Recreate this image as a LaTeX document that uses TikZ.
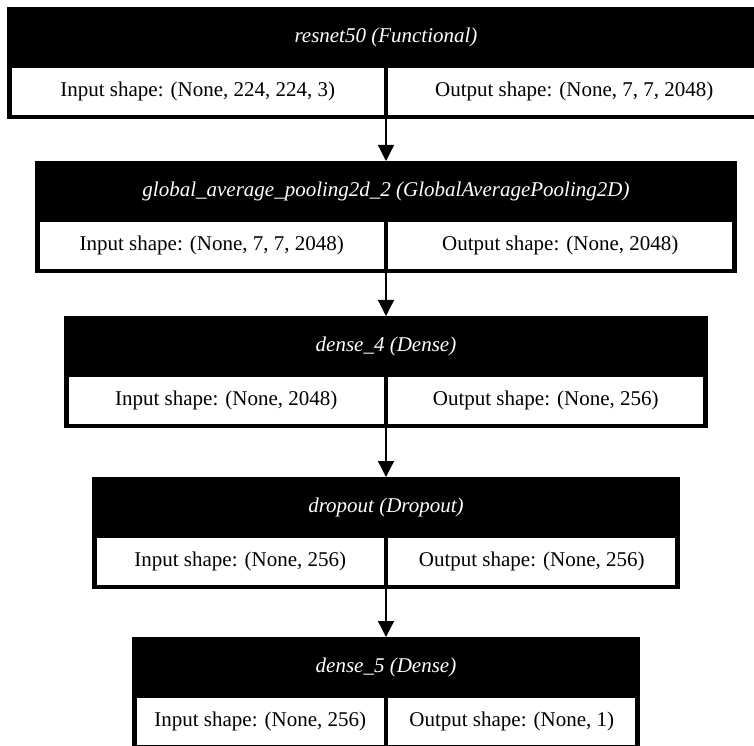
\documentclass[tikz,border=0pt]{standalone}
\usepackage{fontspec}
\setmainfont{Liberation Serif}
\usepackage{tikz}
\usetikzlibrary{positioning}
\usetikzlibrary{arrows.meta}

\begin{document}
\begin{tikzpicture}[
x=1pt, y=1pt,
layer/.style={
  rectangle,
  fill=black,
  minimum width=#1,
  minimum height=112pt,
  anchor=north,
  inner sep=0pt,
  outer sep=0pt
},
head/.style={
  text=white,
  inner sep=0pt,
  font=\fontsize{21}{25}\selectfont\itshape
},
cell/.style={
  rectangle,
  draw=black,
  fill=white,
  line width=4.5pt,
  minimum width=#1,
  minimum height=51pt,
  inner sep=0pt,
  outer sep=0pt,
  font=\fontsize{21}{25}\selectfont
},
arr/.style={-{Triangle[length=16pt,width=16pt]}, line width=1.3pt, black}
]
\useasboundingbox (0,0) rectangle (754,745);
\clip (0,0) rectangle (754,745);

% ---- resnet50 ----
\node[layer=758pt] (resnet) at (386,738) {};
\node[head] (resnethead) at ([yshift=-30.5pt]resnet.north) {resnet50 (Functional)};
\node[cell=376.5pt, anchor=north east] (resnetin) at ([yshift=-59pt]resnet.north) {Input shape: (None, 224, 224, 3)};
\node[cell=376.5pt, anchor=north west] (resnetout) at ([yshift=-59pt]resnet.north) {Output shape: (None, 7, 7, 2048)};

% ---- global average pooling ----
\node[layer=702pt] (gap) at (386,584) {};
\node[head] (gaphead) at ([yshift=-30.5pt]gap.north) {global\_average\_pooling2d\_2 (GlobalAveragePooling2D)};
\node[cell=348.5pt, anchor=north east] (gapin) at ([yshift=-59pt]gap.north) {Input shape: (None, 7, 7, 2048)};
\node[cell=348.5pt, anchor=north west] (gapout) at ([yshift=-59pt]gap.north) {Output shape: (None, 2048)};

% ---- dense_4 ----
\node[layer=644pt] (densefour) at (386,429) {};
\node[head] (densefourhead) at ([yshift=-30.5pt]densefour.north) {dense\_4 (Dense)};
\node[cell=319.5pt, anchor=north east] (densefourin) at ([yshift=-59pt]densefour.north) {Input shape: (None, 2048)};
\node[cell=319.5pt, anchor=north west] (densefourout) at ([yshift=-59pt]densefour.north) {Output shape: (None, 256)};

% ---- dropout ----
\node[layer=588pt] (dropout) at (386,268) {};
\node[head] (dropouthead) at ([yshift=-30.5pt]dropout.north) {dropout (Dropout)};
\node[cell=291.5pt, anchor=north east] (dropoutin) at ([yshift=-59pt]dropout.north) {Input shape: (None, 256)};
\node[cell=291.5pt, anchor=north west] (dropoutout) at ([yshift=-59pt]dropout.north) {Output shape: (None, 256)};

% ---- dense_5 ----
\node[layer=508pt] (densefive) at (386,108) {};
\node[head] (densefivehead) at ([yshift=-30.5pt]densefive.north) {dense\_5 (Dense)};
\node[cell=251.5pt, anchor=north east] (densefivein) at ([yshift=-59pt]densefive.north) {Input shape: (None, 256)};
\node[cell=251.5pt, anchor=north west] (densefiveout) at ([yshift=-59pt]densefive.north) {Output shape: (None, 1)};

\draw[arr] (resnet) -- (gap);
\draw[arr] (gap) -- (densefour);
\draw[arr] (densefour) -- (dropout);
\draw[arr] (dropout) -- (densefive);

\end{tikzpicture}
\end{document}
